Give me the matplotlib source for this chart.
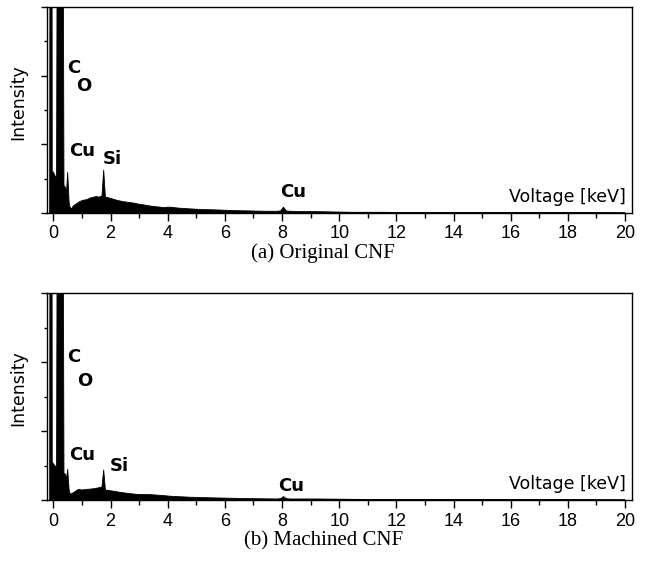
import matplotlib
matplotlib.use("Agg")
import matplotlib.pyplot as plt
from matplotlib.ticker import MultipleLocator

# spectrum: energy [keV] and intensity (axis units 0..6)
energy_a = [-0.13, -0.085, -0.04, -0.01, 0.05, 0.11, 0.235, 0.37, 0.42, 0.46,
            0.50, 0.55, 0.58, 0.64, 0.70, 0.80, 0.88, 1.00, 1.10, 1.18, 1.30,
            1.41, 1.50, 1.60, 1.70, 1.76, 1.82, 1.90, 1.98, 2.10, 2.27, 2.45,
            2.62, 2.80, 2.97, 3.20, 3.40, 3.84, 4.08, 4.40, 4.78, 5.20, 5.70,
            6.30, 6.88, 7.40, 7.82, 7.95, 8.05, 8.15, 8.28, 8.70, 9.22, 9.80,
            10.4, 11.5, 13.0, 15.0, 17.0, 20.0]
counts_a = [0.0, 40.0, 1.1, 1.2, 1.1, 1.0, 40.0, 0.8, 0.75, 0.6,
            1.18, 0.3, 0.17, 0.12, 0.21, 0.26, 0.31, 0.36, 0.38, 0.39, 0.44,
            0.46, 0.48, 0.46, 0.50, 1.25, 0.46, 0.45, 0.43, 0.40, 0.36, 0.33,
            0.31, 0.29, 0.26, 0.23, 0.20, 0.16, 0.17, 0.14, 0.12, 0.10, 0.09,
            0.07, 0.06, 0.05, 0.05, 0.06, 0.17, 0.06, 0.05, 0.04, 0.04, 0.03,
            0.02, 0.02, 0.01, 0.01, 0.01, 0.0]

energy_b = [-0.13, -0.085, -0.04, -0.01, 0.05, 0.11, 0.235, 0.37, 0.42, 0.46,
            0.50, 0.55, 0.58, 0.64, 0.75, 0.88, 1.00, 1.10, 1.20, 1.35, 1.50,
            1.62, 1.70, 1.76, 1.82, 1.98, 2.15, 2.35, 2.62, 2.97, 3.40, 3.84,
            4.08, 4.78, 5.70, 6.88, 7.82, 7.95, 8.05, 8.15, 8.28, 9.22, 10.4,
            12.0, 15.0, 20.0]
counts_b = [0.0, 40.0, 1.1, 1.06, 1.0, 0.95, 40.0, 0.77, 0.75, 0.6,
            0.89, 0.3, 0.19, 0.18, 0.24, 0.31, 0.29, 0.30, 0.31, 0.32, 0.34,
            0.36, 0.38, 0.87, 0.29, 0.27, 0.25, 0.22, 0.19, 0.16, 0.155, 0.13,
            0.11, 0.08, 0.06, 0.04, 0.03, 0.04, 0.10, 0.04, 0.03, 0.03, 0.02,
            0.01, 0.01, 0.0]

# element labels: (text, energy, height)
labels_a = [("C", 0.72, 4.21), ("O", 1.06, 3.70), ("Cu", 0.99, 1.81),
            ("Si", 2.07, 1.57), ("Cu", 8.37, 0.60)]
labels_b = [("C", 0.70, 4.15), ("O", 1.11, 3.45), ("Cu", 0.99, 1.30),
            ("Si", 2.30, 0.99), ("Cu", 8.33, 0.41)]

captions = ["(a) Original CNF", "(b) Machined CNF"]

fig = plt.figure(figsize=(6.49, 5.66), dpi=100)

# axes boxes in figure fractions
boxes = [[0.0717, 0.6237, 0.902, 0.364], [0.0717, 0.1166, 0.902, 0.3657]]
caption_y = [0.5442, 0.0371]

panels = [(energy_a, counts_a, labels_a), (energy_b, counts_b, labels_b)]

for i, (e, c, labs) in enumerate(panels):
    ax = fig.add_axes(boxes[i])
    ax.fill_between(e, 0, c, color="black", linewidth=0.6, edgecolor="black")
    ax.set_xlim(-0.24, 20.24)
    ax.set_ylim(0, 6)

    ax.xaxis.set_major_locator(MultipleLocator(2))
    ax.xaxis.set_minor_locator(MultipleLocator(1))
    ax.yaxis.set_major_locator(MultipleLocator(2))
    ax.yaxis.set_minor_locator(MultipleLocator(1))
    ax.tick_params(axis="x", which="major", direction="out", length=6,
                   width=1.0, pad=3, labelsize=13, top=False)
    ax.tick_params(axis="x", which="minor", direction="out", length=3.5,
                   width=1.0, top=False)
    ax.tick_params(axis="y", which="major", direction="out", length=4,
                   width=1.0, labelleft=False, right=False)
    ax.tick_params(axis="y", which="minor", direction="out", length=2.5,
                   width=1.0, right=False)
    for lab in ax.get_xticklabels():
        lab.set_fontfamily("Liberation Sans")
    for sp in ax.spines.values():
        sp.set_linewidth(1.0)

    ax.text(0.99, 0.053, "Voltage [keV]", transform=ax.transAxes,
            ha="right", va="baseline", fontsize=12.5, family="DejaVu Sans")
    ax.text(-0.048, 0.54, "Intensity", transform=ax.transAxes, rotation=90,
            ha="center", va="center", fontsize=12.5, family="DejaVu Sans")

    for txt, x, y in labs:
        ax.text(x, y, txt, ha="center", va="center", fontsize=13,
                fontweight="heavy", family="DejaVu Sans")

    fig.text(0.498, caption_y[i], captions[i], ha="center", va="baseline",
             fontsize=15, family="Liberation Serif")

fig.savefig("out.png", dpi=100)
